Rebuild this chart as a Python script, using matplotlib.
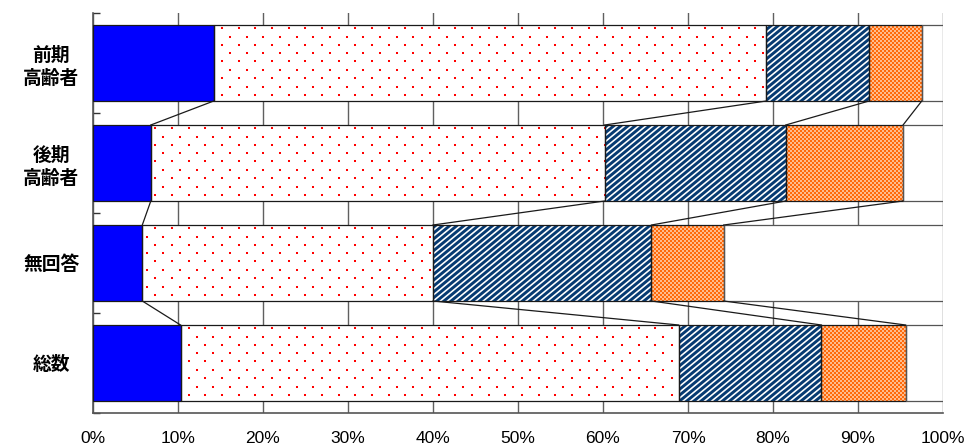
import numpy as np
import matplotlib
matplotlib.use("Agg")
import matplotlib.pyplot as plt
import matplotlib.hatch as mhatch
from matplotlib.path import Path

# ---------------- data ----------------
categories = ["前期\n高齢者", "後期\n高齢者", "無回答", "総数"]
series_a = [14.2, 6.8, 5.8, 10.3]    # blue
series_b = [65.0, 53.4, 34.2, 58.6]  # red dots
series_c = [12.1, 21.3, 25.7, 16.8]  # navy stripes
series_d = [6.2, 13.8, 8.5, 9.9]     # orange checker
xtick_values = list(range(0, 101, 10))
xtick_labels = [f"{v}%" for v in xtick_values]

# ---------------- custom hatch textures ----------------
TILE = 100  # hatch tile size in pixels at dpi 100


def _sq(x0, y0, w, h):
    return np.array([[x0, y0], [x0 + w, y0], [x0 + w, y0 + h], [x0, y0 + h]], float)


def _dots_polys():
    polys = []
    nr, nc = 12, 6
    for i in range(nr):
        yy = round((i + 0.5) * TILE / nr)
        for j in range(nc):
            xx = round((j + (0.25 if i % 2 == 0 else 0.75)) * TILE / nc)
            polys.append(_sq(xx, yy, 2, 2) / TILE)
    return polys


def _stripes_polys():
    polys = []
    n, m = 14, 17
    dd = 0.64 / n
    for k in range(-m - 2, n + 2):
        x0 = k / n
        polys.append(np.array([[x0, 0], [x0 + dd, 0], [x0 + dd + m / n, 1], [x0 + m / n, 1]]))
    return polys


def _checker_polys():
    # 2x2-pixel orange squares on a 4-pixel pitch (fine checker texture)
    polys = []
    for i in range(0, TILE, 2):
        for j in range(0, TILE, 2):
            if (i // 2 + j // 2) % 2 == 0:
                polys.append(_sq(j, i, 2, 2) / TILE)
    return polys


class _CustomHatch(mhatch.HatchPatternBase):
    char = None
    maker = None
    _cache = {}

    def __init__(self, hatch, density):
        if hatch.count(self.char) > 0:
            key = self.char
            if key not in _CustomHatch._cache:
                polys = type(self).maker()
                verts = np.concatenate([np.vstack([p, p[:1]]) for p in polys])
                codes = []
                for p in polys:
                    codes += [Path.MOVETO] + [Path.LINETO] * (len(p) - 1) + [Path.CLOSEPOLY]
                _CustomHatch._cache[key] = (verts, np.array(codes, dtype=Path.code_type))
            self._verts, self._codes = _CustomHatch._cache[key]
            self.num_vertices = len(self._verts)
        else:
            self.num_vertices = 0

    def set_vertices_and_codes(self, vertices, codes):
        vertices[:] = self._verts
        codes[:] = self._codes


class DotsHatch(_CustomHatch):
    char = "."
    maker = staticmethod(_dots_polys)


class StripesHatch(_CustomHatch):
    char = "/"
    maker = staticmethod(_stripes_polys)


class CheckerHatch(_CustomHatch):
    char = "+"
    maker = staticmethod(_checker_polys)


mhatch._hatch_types = [DotsHatch, StripesHatch, CheckerHatch]
plt.rcParams["hatch.linewidth"] = 0.01

# ---------------- figure ----------------
plt.rcParams["font.family"] = ["Noto Sans CJK JP", "DejaVu Sans"]
W, H = 965, 445
AX_L, AX_B, AX_W, AX_H = 93, 32, 850, 400
fig = plt.figure(figsize=(W / 100, H / 100), dpi=100)
ax = fig.add_axes([AX_L / W, AX_B / H, AX_W / W, AX_H / H])

y = np.arange(len(categories))
bar_h = 0.76
a = np.array(series_a)
b = np.array(series_b)
c = np.array(series_c)
d = np.array(series_d)
cum0 = np.zeros_like(a)
cum1 = a
cum2 = cum1 + b
cum3 = cum2 + c
cum4 = cum3 + d
rest = 100 - cum4

segments = [
    (cum0, a, "#0000FF", "#0000FF", None),
    (cum1, b, "white", "#FF0000", "."),
    (cum2, c, "white", "#063A72", "/"),
    (cum3, d, "#FFBE90", "#FF6A0A", "+"),
    (cum4, rest, "white", "white", None),
]
for left, width, face, hcol, hatch in segments:
    ax.barh(y, width, left=left, height=bar_h, color=face, edgecolor=hcol,
            linewidth=0, hatch=hatch, zorder=2)

# outlines
edge_cols = ["#1a1a1a", "#1a1a1a", "#1a1a1a", "#1a1a1a", "#555555"]
for (left, width, *_), ec in zip(segments, edge_cols):
    ax.barh(y, width, left=left, height=bar_h, fill=False, edgecolor=ec,
            linewidth=0.9, zorder=3)

# series lines between adjacent bars
for cum in (cum1, cum2, cum3, cum4):
    for r in range(len(categories) - 1):
        ax.plot([cum[r], cum[r + 1]], [y[r] + bar_h / 2, y[r + 1] - bar_h / 2],
                color="#1a1a1a", linewidth=0.9, zorder=3)

ax.set_xlim(0, 100)
ax.set_ylim(len(categories) - 0.5, -0.5)
ax.set_xticks(xtick_values)
ax.set_xticklabels(xtick_labels, family=["Liberation Sans", "DejaVu Sans"],
                   fontsize=12.5)
ax.tick_params(axis="x", length=0, pad=13)
ax.grid(axis="x", color="#606060", linewidth=1.0, zorder=0)
ax.set_axisbelow(True)

ax.set_yticks(y)
ax.set_yticklabels(categories, ha="center", multialignment="center",
                   fontsize=13.5, fontweight="bold", linespacing=1.25)
ax.tick_params(axis="y", which="major", length=0, pad=30)
ax.set_yticks(np.arange(len(categories) + 1) - 0.5, minor=True)
ax.tick_params(axis="y", which="minor", direction="in", length=5,
               color="#333333", width=1.0)

for s in ("top", "right"):
    ax.spines[s].set_visible(False)
for s in ("left", "bottom"):
    ax.spines[s].set_color("#555555")
    ax.spines[s].set_linewidth(1.2)

fig.savefig("out.png", dpi=100)
